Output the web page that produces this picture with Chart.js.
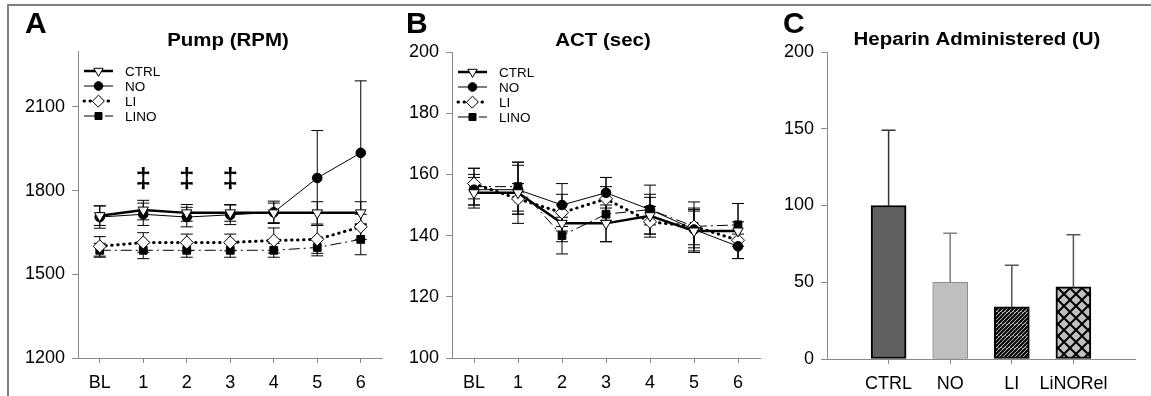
<!DOCTYPE html>
<html>
<head>
<meta charset="utf-8">
<script src="https://cdn.jsdelivr.net/npm/chart.js@4.4.1/dist/chart.umd.min.js"></script>
<style>
  body { margin: 0; background: #fff; width: 1151px; height: 396px; overflow: hidden; position: relative; }
  .frame { position: absolute; left: 7px; top: 4px; width: 1160px; height: 400px; border-top: 2px solid #7f7f7f; border-left: 2px solid #7f7f7f; }
  canvas { position: absolute; top: 0; }
</style>
</head>
<body>
<div class="frame"></div>
<canvas id="pump" width="390" height="396" style="left:0px"></canvas>
<canvas id="act" width="380" height="396" style="left:390px"></canvas>
<canvas id="heparin" width="381" height="396" style="left:770px"></canvas>
<script>
// time points and groups
const timeLabels = ["BL", "1", "2", "3", "4", "5", "6"];
const groupNames = ["CTRL", "NO", "LI", "LINO"];

// A: pump speed (RPM), mean and SE
const pumpCtrl = [1710, 1730, 1720, 1720, 1720, 1720, 1720];
const pumpCtrlErr = [35, 35, 30, 30, 35, 40, 40];
const pumpNo = [1705, 1715, 1705, 1713, 1722, 1845, 1935];
const pumpNoErr = [40, 40, 35, 35, 40, 170, 258];
const pumpLi = [1600, 1614, 1614, 1614, 1621, 1625, 1670];
const pumpLiErr = [35, 35, 30, 30, 45, 50, 45];
const pumpLino = [1586, 1586, 1586, 1586, 1586, 1596, 1625];
const pumpLinoErr = [25, 30, 25, 25, 25, 30, 55];
const pumpTicks = [1200, 1500, 1800, 2100];
const daggerAt = [1, 2, 3];
const daggerLevel = 1840;

// B: ACT (sec)
const actCtrl = [154, 154, 144, 144, 146.5, 141.5, 141.5];
const actCtrlErr = [5, 10, 6, 6, 6, 7, 9];
const actNo = [155, 155, 150, 154, 148.5, 142, 136.5];
const actNoErr = [5, 8, 7, 5, 5, 6, 4];
const actLi = [157, 152, 147.5, 152, 144.5, 143, 138.5];
const actLiErr = [5, 5, 6, 7, 5, 6, 6];
const actLino = [156, 156, 140, 147, 148.5, 143, 143.5];
const actLinoErr = [6, 8, 6, 9, 8, 8, 7];
const actTicks = [100, 120, 140, 160, 180, 200];

// C: heparin administered (U)
const heparinGroups = ["CTRL", "NO", "LI", "LiNORel"];
const heparinMean = [100, 50, 34, 47];
const heparinErr = [49, 32, 27, 34];
const heparinTicks = [0, 50, 100, 150, 200];

Chart.defaults.font.family = '"Liberation Sans", Arial, sans-serif';
Chart.defaults.color = "#000";
const axisGray = "#8a8a8a";

// error bars drawn from each dataset's errors array
const errorBars = {
  id: "errorBars",
  beforeDatasetsDraw(chart) {
    const ctx = chart.ctx, ys = chart.scales.y;
    chart.data.datasets.forEach((ds, i) => {
      if (!ds.errors) return;
      chart.getDatasetMeta(i).data.forEach((el, j) => {
        const v = ds.data[j], e = ds.errors[j];
        if (v == null || e == null) return;
        const top = ys.getPixelForValue(v + e);
        const bot = ds.upOnly ? el.y : ys.getPixelForValue(v - e);
        const cap = ds.capWidth || 6;
        ctx.save();
        ctx.strokeStyle = Array.isArray(ds.errorColor) ? ds.errorColor[j] : (ds.errorColor || "#000");
        ctx.lineWidth = ds.errorWidth || 1;
        ctx.beginPath();
        ctx.moveTo(el.x, top); ctx.lineTo(el.x, bot);
        ctx.moveTo(el.x - cap, top); ctx.lineTo(el.x + cap, top);
        if (!ds.upOnly) { ctx.moveTo(el.x - cap, bot); ctx.lineTo(el.x + cap, bot); }
        ctx.stroke();
        ctx.restore();
      });
    });
  }
};

// panel letter, bold title, line legend, daggers
const decor = {
  id: "decor",
  afterDraw(chart, args, o) {
    const ctx = chart.ctx;
    ctx.save();
    ctx.fillStyle = "#000";
    ctx.textBaseline = "middle";
    ctx.textAlign = "left";
    ctx.font = 'bold 30px "Liberation Sans", Arial';
    ctx.fillText(o.letter, o.lx, o.ly);
    ctx.save();
    ctx.translate(o.tx, o.ty);
    ctx.scale(1.17, 1);
    ctx.textAlign = "center";
    ctx.font = 'bold 17.5px "Liberation Sans", Arial';
    ctx.fillText(o.title, 0, 0);
    ctx.restore();
    if (o.legendX) {
      chart.data.datasets.forEach((ds, i) => {
        const y = o.legendY + i * 15, x0 = o.legendX, len = 29;
        ctx.save();
        ctx.strokeStyle = "#000";
        ctx.lineWidth = ds.borderWidth;
        ctx.lineCap = ds.borderCapStyle || "butt";
        ctx.setLineDash(ds.borderDash || []);
        ctx.beginPath(); ctx.moveTo(x0, y); ctx.lineTo(x0 + len, y); ctx.stroke();
        ctx.setLineDash([]);
        ctx.fillStyle = ds.pointBackgroundColor;
        ctx.strokeStyle = "#000";
        ctx.lineWidth = 1;
        Chart.helpers.drawPoint(ctx, { pointStyle: ds.pointStyle, rotation: ds.rotation || 0, radius: ds.pointRadius * 0.9, borderWidth: 1 }, x0 + len / 2, y);
        ctx.fillStyle = "#000";
        ctx.font = '13.5px "Liberation Sans", Arial';
        ctx.fillText(ds.label, x0 + len + 12, y + 1);
        ctx.restore();
      });
    }
    if (o.daggers) {
      ctx.font = 'bold 28px "Liberation Sans", Arial';
      ctx.textAlign = "center";
      const xs = chart.scales.x, ys = chart.scales.y;
      o.daggers.forEach(i => ctx.fillText("\u2021", xs.getPixelForValue(i), ys.getPixelForValue(o.daggerLevel)));
    }
    ctx.restore();
  }
};

function yAxis(min, max, ticks, width) {
  return {
    min: min, max: max,
    afterBuildTicks: s => { s.ticks = ticks.map(v => ({ value: v })); },
    afterFit: s => { s.width = width; },
    grid: { drawOnChartArea: false, tickLength: 6, color: axisGray },
    border: { color: axisGray, width: 1 },
    ticks: { font: { size: 18 }, padding: 7, callback: v => String(v) }
  };
}
function xAxis() {
  return {
    offset: true,
    afterFit: s => { s.height = 38; },
    grid: { drawOnChartArea: false, offset: false, tickLength: 5, color: axisGray },
    border: { color: axisGray, width: 1 },
    ticks: { font: { size: 18 }, padding: 9, maxRotation: 0, autoSkip: false }
  };
}

const lineStyles = [
  { borderWidth: 2.5, pointStyle: "triangle", rotation: 180, pointRadius: 6, pointBackgroundColor: "#fff" },
  { borderWidth: 1, pointStyle: "circle", pointRadius: 4.8, pointBackgroundColor: "#000" },
  { borderWidth: 3, borderDash: [0.5, 5.5], borderCapStyle: "round", pointStyle: "rectRot", pointRadius: 6.5, pointBackgroundColor: "#fff" },
  { borderWidth: 1, borderDash: [11, 4, 2, 4], pointStyle: "rect", pointRadius: 5.5, pointBackgroundColor: "#000" }
];
function lineSets(values, errors) {
  return values.map((v, i) => Object.assign({
    label: groupNames[i], data: v, errors: errors[i], capWidth: 6,
    borderColor: "#000", pointBorderColor: "#000", pointBorderWidth: 1,
    tension: 0, fill: false
  }, lineStyles[i]));
}

new Chart(document.getElementById("pump"), {
  type: "line",
  data: { labels: timeLabels, datasets: lineSets([pumpCtrl, pumpNo, pumpLi, pumpLino], [pumpCtrlErr, pumpNoErr, pumpLiErr, pumpLinoErr]) },
  plugins: [errorBars, decor],
  options: {
    responsive: false, animation: false,
    layout: { padding: { top: 51, right: 5, left: 0, bottom: 0 } },
    plugins: {
      legend: { display: false }, tooltip: { enabled: false },
      decor: { letter: "A", lx: 25, ly: 25, title: "Pump (RPM)", tx: 228, ty: 41, legendX: 84, legendY: 71, daggers: daggerAt, daggerLevel: daggerLevel }
    },
    scales: { x: xAxis(), y: yAxis(1200, 2300, pumpTicks, 78) }
  }
});

new Chart(document.getElementById("act"), {
  type: "line",
  data: { labels: timeLabels, datasets: lineSets([actCtrl, actNo, actLi, actLino], [actCtrlErr, actNoErr, actLiErr, actLinoErr]) },
  plugins: [errorBars, decor],
  options: {
    responsive: false, animation: false,
    layout: { padding: { top: 52, right: 10, left: 0, bottom: 0 } },
    plugins: {
      legend: { display: false }, tooltip: { enabled: false },
      decor: { letter: "B", lx: 16, ly: 25, title: "ACT (sec)", tx: 213, ty: 41, legendX: 68, legendY: 72 }
    },
    scales: { x: xAxis(), y: yAxis(100, 200, actTicks, 62) }
  }
});

// bar fills
function pattern(bg, draw) {
  const c = document.createElement("canvas");
  c.width = 12; c.height = 12;
  const g = c.getContext("2d");
  g.fillStyle = bg; g.fillRect(0, 0, 12, 12);
  g.strokeStyle = "#000";
  draw(g);
  return g.createPattern(c, "repeat");
}
const diagFill = pattern("#d8d8d8", g => {
  g.lineWidth = 2;
  g.beginPath();
  for (let k = -12; k <= 24; k += 4) { g.moveTo(k, 12); g.lineTo(k + 12, 0); }
  g.stroke();
});
const crossFill = pattern("#c0c0c0", g => {
  g.lineWidth = 2;
  g.beginPath();
  g.moveTo(0, 0); g.lineTo(12, 12);
  g.moveTo(12, 0); g.lineTo(0, 12);
  g.stroke();
});

const padEnds = a => [null].concat(a, [null]);
new Chart(document.getElementById("heparin"), {
  type: "bar",
  data: {
    labels: padEnds(heparinGroups).map(v => v || ""),
    datasets: [{
      data: padEnds(heparinMean),
      errors: padEnds(heparinErr),
      upOnly: true, capWidth: 7, errorWidth: 1.5,
      errorColor: padEnds(["#333", "#808080", "#555", "#555"]),
      backgroundColor: padEnds(["#606060", "#c0c0c0", diagFill, crossFill]),
      borderColor: padEnds(["#000", "#8c8c8c", "#000", "#000"]),
      borderWidth: padEnds([2, 1, 2, 2]),
      borderSkipped: false,
      barThickness: 35
    }]
  },
  plugins: [errorBars, decor],
  options: {
    responsive: false, animation: false,
    layout: { padding: { top: 52, right: 16, left: 0, bottom: 0 } },
    plugins: {
      legend: { display: false }, tooltip: { enabled: false },
      decor: { letter: "C", lx: 13, ly: 25, title: "Heparin Administered (U)", tx: 207, ty: 40 }
    },
    scales: {
      x: Object.assign(xAxis(), {
        offset: false,
        afterFit: s => { s.height = 37; },
        grid: { drawOnChartArea: false, offset: false, tickLength: 5, color: c => (c.index === 0 || c.index === 5) ? "rgba(0,0,0,0)" : axisGray }
      }),
      y: yAxis(0, 200, heparinTicks, 57)
    }
  }
});
</script>
</body>
</html>
